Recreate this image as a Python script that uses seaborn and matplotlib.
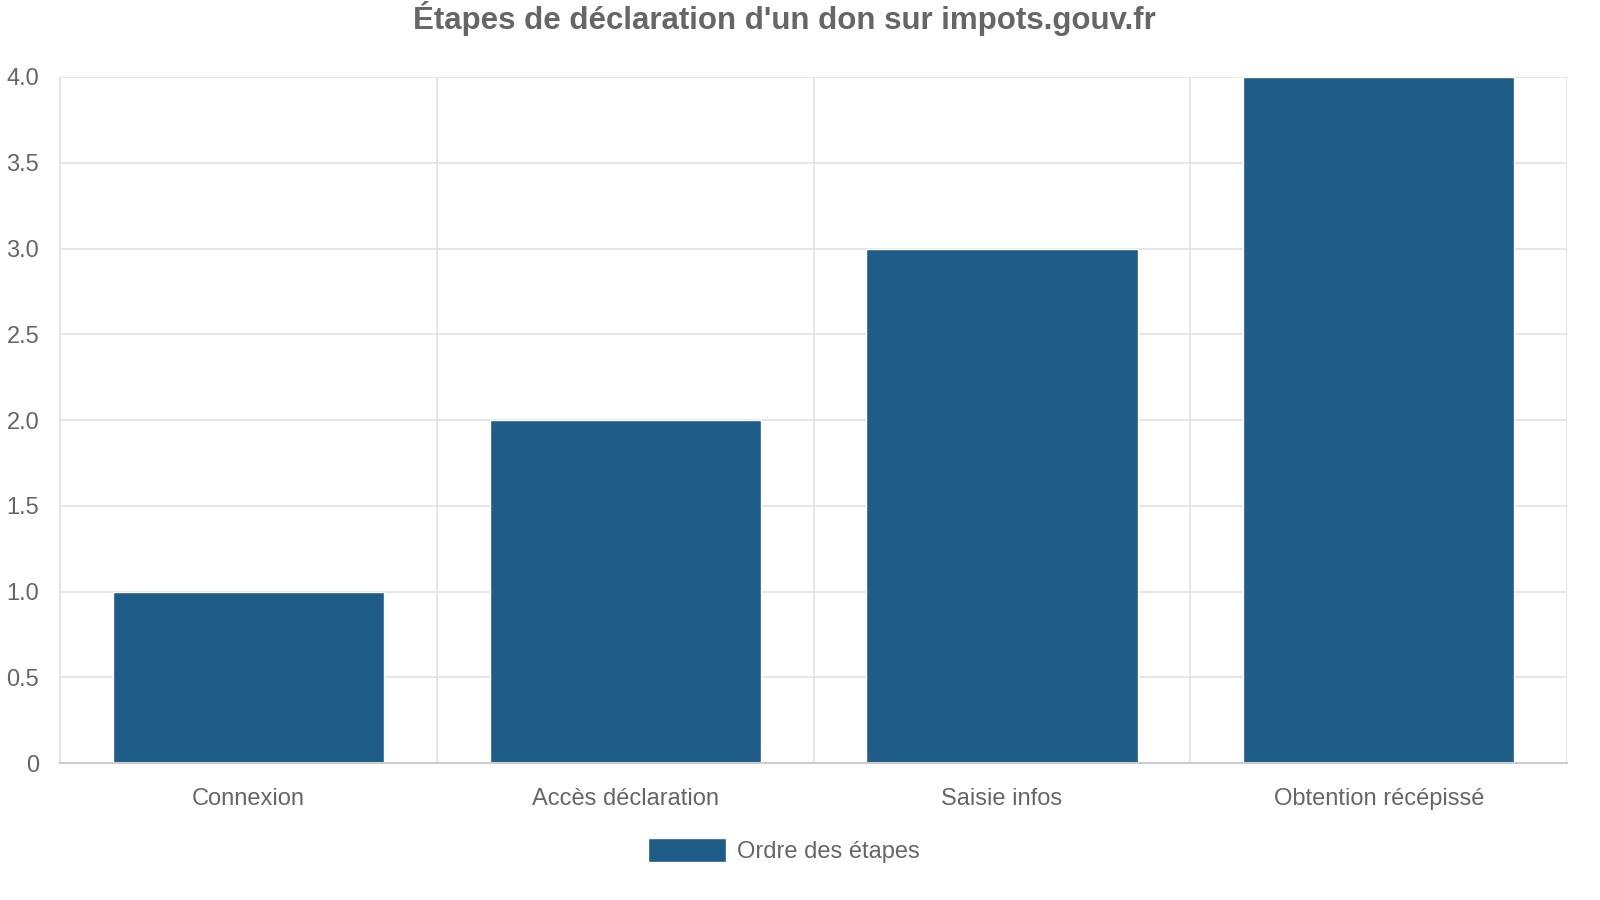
import matplotlib
matplotlib.use("Agg")
import matplotlib.pyplot as plt
import matplotlib.ticker as mticker
import seaborn as sns
import pandas as pd

# Données du graphique
etapes = ["Connexion", "Accès déclaration", "Saisie infos", "Obtention récépissé"]
ordre = [1, 2, 3, 4]
titre = "Étapes de déclaration d'un don sur impots.gouv.fr"
serie = "Ordre des étapes"

couleur_barre = "#1f5c87"
gris_texte = "#666666"
gris_grille = "#e1e1e1"

sns.set_theme(style="white")
plt.rcParams["font.family"] = ["Liberation Sans", "DejaVu Sans"]

df = pd.DataFrame({"etape": etapes, "ordre": ordre})

fig = plt.figure(figsize=(16, 9), dpi=100)
ax = fig.add_axes([0.0375, 0.152, 0.942, 0.7625])

sns.barplot(data=df, x="etape", y="ordre", color=couleur_barre, width=0.72,
            saturation=1, label=serie, ax=ax)

ax.set_xlim(-0.5, len(etapes) - 0.5)
ax.set_ylim(0, 4)
ax.yaxis.set_major_locator(mticker.MultipleLocator(0.5))
ax.yaxis.set_major_formatter(mticker.FuncFormatter(lambda v, p: "0" if v == 0 else f"{v:.1f}"))

# grille verticale entre les catégories
ax.xaxis.set_minor_locator(mticker.FixedLocator([i - 0.5 for i in range(len(etapes) + 1)]))
ax.grid(axis="y", which="major", color=gris_grille, linewidth=1.2)
ax.grid(axis="x", which="minor", color=gris_grille, linewidth=1.2)
ax.set_axisbelow(True)

ax.tick_params(axis="x", which="major", length=0, pad=18, labelsize=17, labelcolor=gris_texte)
ax.tick_params(axis="x", which="minor", length=11, color=gris_grille, width=1.2)
ax.tick_params(axis="y", which="major", length=11, color=gris_grille, width=1.2,
               pad=4, labelsize=17, labelcolor=gris_texte)

for s in ["top", "right"]:
    ax.spines[s].set_visible(False)
ax.spines["left"].set_color(gris_grille)
ax.spines["left"].set_linewidth(1.2)
ax.spines["bottom"].set_color("#cccccc")
ax.spines["bottom"].set_linewidth(1.5)

ax.set_xlabel("")
ax.set_ylabel("")

fig.suptitle(titre, x=0.49, y=0.979, va="center", fontsize=22.5, fontweight="bold",
             color=gris_texte)

if ax.get_legend() is not None:
    ax.get_legend().remove()
handles, labels = ax.get_legend_handles_labels()
fig.legend(handles, labels, loc="center", bbox_to_anchor=(0.49, 0.055), frameon=False,
           fontsize=17, labelcolor=gris_texte, handlelength=3.3, handleheight=1.2,
           handletextpad=0.5)

plt.savefig("out.png", dpi=100)
